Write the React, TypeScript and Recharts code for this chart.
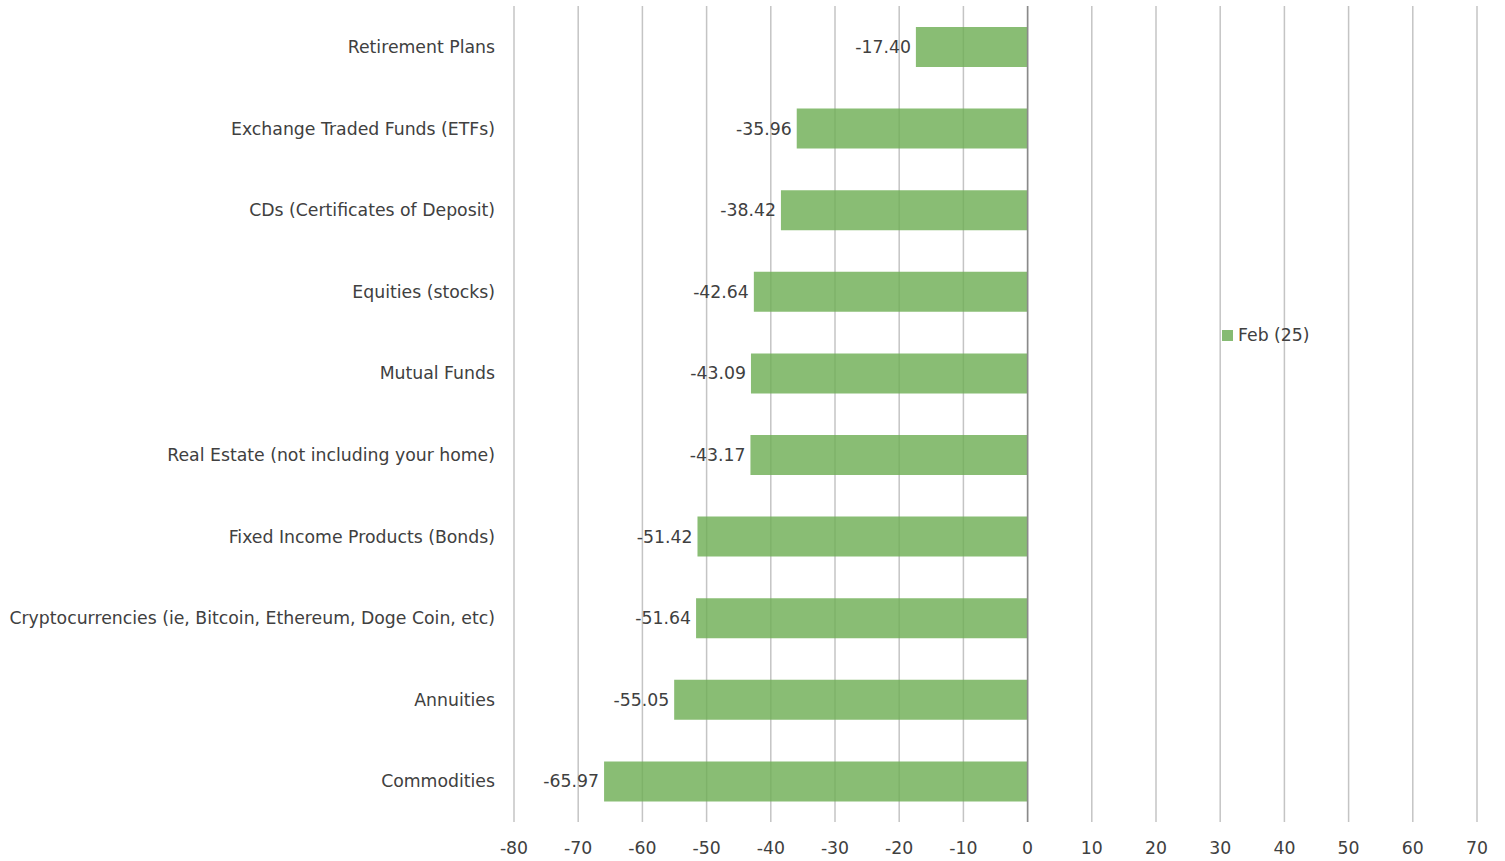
import { Bar, BarChart, XAxis, YAxis, CartesianGrid, ReferenceLine, LabelList } from "recharts";

const categories = [
  "Retirement Plans",
  "Exchange Traded Funds (ETFs)",
  "CDs (Certificates of Deposit)",
  "Equities (stocks)",
  "Mutual Funds",
  "Real Estate (not including your home)",
  "Fixed Income Products (Bonds)",
  "Cryptocurrencies (ie, Bitcoin, Ethereum, Doge Coin, etc)",
  "Annuities",
  "Commodities",
];
const feb25 = [-17.4, -35.96, -38.42, -42.64, -43.09, -43.17, -51.42, -51.64, -55.05, -65.97];
const xTicks = [-80, -70, -60, -50, -40, -30, -20, -10, 0, 10, 20, 30, 40, 50, 60, 70];
const seriesName = "Feb (25)";

const data = categories.map((name, i) => ({ name, value: feb25[i] }));

const FONT = "'DejaVu Sans', sans-serif";
const TEXT = "#404040";
const FS = 17.3;

function ValueLabel(props: any) {
  const { x, y, width, height, value } = props;
  const left = Math.min(x, x + width);
  return (
    <text x={left - 5} y={y + height / 2} textAnchor="end" dominantBaseline="central" fontSize={FS} fill={TEXT} fontFamily={FONT}>
      {Number(value).toFixed(2)}
    </text>
  );
}

export default function App() {
  return (
    <div style={{ position: "absolute", left: 0, top: 0, width: 1505, height: 861, background: "#fff" }}>
      <BarChart
        width={1505}
        height={861}
        data={data}
        layout="vertical"
        margin={{ top: 6, right: 28, bottom: 0, left: 0 }}
      >
        <CartesianGrid horizontal={false} stroke="#c4c4c4" strokeWidth={1.5} />
        <XAxis
          type="number"
          domain={[-80, 70]}
          ticks={xTicks}
          interval={0}
          height={39}
          axisLine={false}
          tickLine={false}
          tickMargin={14}
          tick={{ fontSize: FS, fill: TEXT, fontFamily: FONT }}
        />
        <YAxis
          type="category"
          dataKey="name"
          width={514}
          axisLine={false}
          tickLine={false}
          tickMargin={13}
          interval={0}
          tick={{ fontSize: FS, fill: TEXT, fontFamily: FONT }}
        />
        <ReferenceLine x={0} stroke="#8a8a8a" strokeWidth={1.5} />
        <Bar dataKey="value" fill="#6fae55" fillOpacity={0.82} barSize={40} isAnimationActive={false}>
          <LabelList dataKey="value" content={<ValueLabel />} />
        </Bar>
      </BarChart>
      <div
        style={{
          position: "absolute",
          left: 1222,
          top: 325,
          display: "flex",
          alignItems: "center",
          fontFamily: FONT,
          fontSize: FS,
          color: TEXT,
          whiteSpace: "nowrap",
        }}
      >
        <span style={{ width: 11, height: 11, background: "#86bb73", marginRight: 5, display: "inline-block" }} />
        {seriesName}
      </div>
    </div>
  );
}
